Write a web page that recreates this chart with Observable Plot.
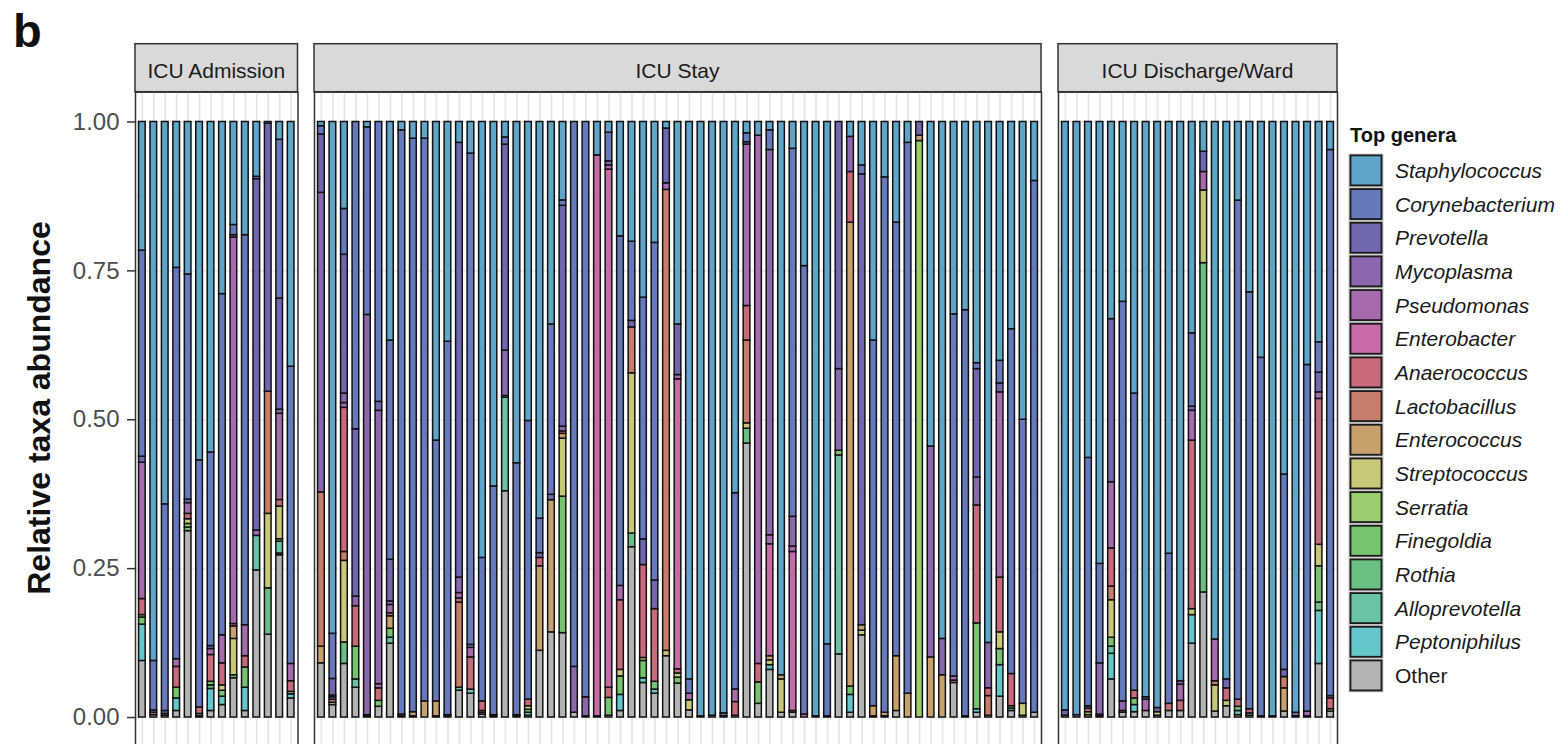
<!DOCTYPE html>
<html><head><meta charset="utf-8">
<script src="https://cdn.jsdelivr.net/npm/d3@7"></script>
<script src="https://cdn.jsdelivr.net/npm/@observablehq/plot@0.6"></script>
<style>
html,body{margin:0;padding:0;background:#fff;overflow:hidden;}
#root{position:relative;width:1561px;height:744px;overflow:hidden;font-family:"Liberation Sans",Arial,Helvetica,sans-serif;}
#root > svg{position:absolute;top:0;}
</style></head><body><div id="root"></div>
<script>
// ---- categories ----
const genera = ["Staphylococcus","Corynebacterium","Prevotella","Mycoplasma","Pseudomonas","Enterobacter","Anaerococcus","Lactobacillus","Enterococcus","Streptococcus","Serratia","Finegoldia","Rothia","Alloprevotella","Peptoniphilus","Other"];
const codes  = ["Sta","Co","Pr","My","Ps","Eb","An","La","Ec","Stp","Ser","Fi","Ro","Al","Pe","O"];
const colors = ["#5fa5c8","#6679bd","#6f68b0","#8b68ae","#a86aae","#c86aa6","#c96a7a","#c87d6a","#c8a06c","#c8c878","#9acd6e","#77c46f","#6abf82","#68c4a4","#65c6cb","#b3b3b3"];
const facetLabels = ["ICU Admission","ICU Stay","ICU Discharge/Ward"];
const yTicks = [0, 0.25, 0.5, 0.75, 1];
const yMinor = [0.125, 0.375, 0.625, 0.875];

// ---- series values (relative abundance per sample) ----
const admission = [
 {O:.095,Pe:.061,Fi:.012,Ser:.004,An:.027,Ps:.229,Pr:.01,Co:.346,Sta:.216},
 {O:.004,An:.004,Pr:.004,Co:.083,Sta:.905},
 {O:.003,Pe:.003,Pr:.005,Co:.347,Sta:.642},
 {O:.011,Pe:.021,Fi:.018,An:.035,Ps:.013,Co:.657,Sta:.245},
 {O:.313,Fi:.006,Stp:.008,Ser:.006,An:.009,Ps:.018,Pr:.006,Co:.378,Sta:.256},
 {O:.002,Fi:.004,An:.011,Co:.415,Sta:.568},
 {O:.011,Pe:.037,Ro:.006,Fi:.006,An:.045,Ps:.01,Pr:.005,Co:.325,Sta:.555},
 {O:.021,Pe:.014,Fi:.010,Stp:.009,An:.037,Ps:.047,Co:.573,Sta:.289},
 {O:.066,Fi:.005,Stp:.061,Ec:.021,An:.004,Ps:.649,Pr:.004,Co:.017,Sta:.173},
 {O:.011,Pe:.039,Fi:.034,An:.019,Ps:.052,Co:.655,Sta:.19},
 {O:.247,Al:.058,Ps:.009,Pr:.59,Co:.004,Sta:.092},
 {O:.139,Ro:.078,Stp:.125,La:.205,Pr:.45,Sta:.003},
 {O:.273,Pe:.003,Al:.02,Ser:.004,Stp:.055,An:.011,Ps:.145,My:.007,Pr:.187,Co:.267,Sta:.03},
 {O:.032,Pe:.007,Stp:.004,An:.018,Ps:.029,Co:.499,Sta:.411}
];
const stay = [
 {O:.091,Ec:.028,La:.259,My:.503,Pr:.098,Co:.014,Sta:.007},
 {O:.021,An:.005,Ps:.004,Stp:.004,My:.003,Pr:.028,Co:.076,Sta:.862},
 {O:.09,Ro:.036,Stp:.137,La:.015,An:.242,Ps:.008,My:.016,Pr:.233,Co:.077,Sta:.146},
 {O:.05,Al:.014,Fi:.055,An:.068,My:.016,Pr:.281,Co:.516},
 {O:.002,Ps:.002,My:.672,Co:.315,Sta:.009},
 {O:.018,Fi:.01,An:.021,Ps:.007,My:.459,Pr:.015,Co:.47},
 {O:.124,Al:.01,Fi:.015,Ec:.021,An:.005,Ps:.014,My:.006,Pr:.07,Co:.368,Sta:.367},
 {O:.002,An:.003,Co:.981,Sta:.014},
 {O:.002,Ec:.007,Co:.963,Sta:.028},
 {Ec:.027,Co:.945,Sta:.028},
 {O:.002,Ec:.025,Co:.438,Sta:.535},
 {O:.002,An:.002,Co:.627,Sta:.369},
 {O:.045,Al:.005,La:.143,An:.007,Ps:.009,My:.026,Pr:.73,Sta:.035},
 {O:.04,Pe:.007,An:.054,Ps:.016,My:.005,Co:.825,Sta:.053},
 {O:.005,Fi:.003,Stp:.003,An:.016,Co:.241,Sta:.732},
 {O:.002,An:.002,Co:.384,Sta:.612},
 {O:.38,Ro:.003,Al:.157,My:.076,Pr:.346,Co:.012,Sta:.026},
 {O:.002,An:.002,Co:.423,Sta:.573},
 {O:.003,Pe:.005,Fi:.005,Stp:.006,An:.011,Co:.467,Sta:.501},
 {O:.112,Ec:.142,An:.014,Pr:.008,Co:.058,Sta:.666},
 {O:.143,Ec:.222,Pr:.009,Co:.286,Sta:.34},
 {O:.141,Fi:.228,Stp:.097,Ec:.008,An:.004,My:.008,Pr:.369,Co:.009,Sta:.131},
 {O:.008,My:.077,Co:.915},
 {O:.002,My:.032,Co:.966},
 {O:.002,Eb:.942,Sta:.056},
 {O:.003,Fi:.03,An:.017,Eb:.87,Ps:.007,Pr:.007,Co:.048,Sta:.018},
 {O:.011,Pe:.027,Fi:.031,Stp:.011,An:.117,Ps:.024,Co:.587,Sta:.192},
 {O:.286,Ro:.023,Stp:.269,La:.077,Pr:.011,Co:.133,Sta:.201},
 {O:.058,Pe:.008,Fi:.029,Stp:.005,An:.156,Pr:.043,Co:.406,Sta:.295},
 {O:.04,Pe:.007,Fi:.013,An:.122,Pr:.048,Co:.567,Sta:.203},
 {O:.103,Stp:.009,La:.774,Ps:.011,Pr:.092,Sta:.011},
 {O:.057,Fi:.01,Stp:.007,An:.007,Eb:.487,Ps:.007,Pr:.085,Sta:.34},
 {O:.012,Stp:.017,Ps:.011,Co:.024,Sta:.936},
 {O:.002,Sta:.998},
 {An:.003,Sta:.997},
 {O:.002,Pr:.005,Sta:.993},
 {O:.003,An:.023,Ps:.021,Co:.329,Sta:.622},
 {O:.46,Ro:.025,Stp:.009,La:.139,An:.058,Ps:.271,Pr:.004,Co:.015,Sta:.019},
 {O:.023,Fi:.036,An:.031,Ps:.887,Sta:.023},
 {O:.08,Pe:.008,Stp:.008,Ec:.007,Eb:.188,Ps:.015,My:.647,Co:.033,Sta:.014},
 {O:.008,Stp:.056,Ec:.007,Sta:.929},
 {O:.008,An:.003,Eb:.267,Ps:.009,My:.05,Co:.618,Sta:.045},
 {Eb:.005,Co:.753,Sta:.242},
 {O:.002,Sta:.998},
 {O:.002,Co:.121,Sta:.877},
 {O:.106,Al:.334,Fi:.008,My:.137,Pr:.415},
 {O:.008,Pe:.03,Fi:.014,Ec:.779,An:.085,My:.059,Sta:.025},
 {O:.138,Stp:.008,Ec:.009,Pr:.757,Co:.015,Sta:.073},
 {O:.002,Ec:.017,Co:.614,Sta:.367},
 {O:.002,Ec:.006,Co:.899,Sta:.093},
 {O:.011,Ec:.092,Co:.728,Sta:.169},
 {Ec:.04,Co:.925,Sta:.035},
 {Ser:.968,Ec:.009,Pr:.023},
 {Ec:.101,My:.354,Sta:.545},
 {Ec:.071,My:.061,Sta:.868},
 {O:.058,An:.004,Ps:.007,Co:.608,Sta:.323},
 {O:.002,Co:.682,Sta:.316},
 {O:.008,Pe:.006,Fi:.144,An:.198,My:.047,Pr:.182,Co:.01,Sta:.405},
 {O:.003,La:.033,An:.013,My:.076,Sta:.873},
 {O:.035,Pe:.053,Fi:.027,Stp:.028,An:.092,Ps:.311,Pr:.015,Co:.038,Sta:.401},
 {O:.011,Al:.004,Fi:.004,An:.054,Co:.579,Sta:.348},
 {O:.003,Stp:.02,Co:.476,Sta:.499},
 {O:.008,Co:.893,Sta:.099}
];
const discharge = [
 {O:.003,Pr:.009,Sta:.988},
 {Co:.004,Sta:.996},
 {O:.004,Stp:.005,An:.006,Pr:.004,Co:.417,Sta:.564},
 {O:.002,Ps:.003,My:.086,Co:.167,Sta:.742},
 {O:.064,Pe:.043,Al:.012,Fi:.015,Stp:.063,La:.023,An:.064,Ps:.111,Pr:.274,Sta:.331},
 {O:.008,An:.003,My:.016,Co:.671,Sta:.302},
 {O:.009,Pe:.012,Fi:.011,An:.013,Co:.499,Sta:.456},
 {O:.011,Ps:.019,Co:.004,Sta:.966},
 {O:.003,Stp:.006,Pr:.007,Sta:.984},
 {O:.011,An:.012,Co:.252,Sta:.725},
 {O:.011,An:.017,Ps:.027,Pr:.006,Sta:.939},
 {O:.124,Pe:.048,Stp:.01,An:.283,Ps:.05,Pr:.007,Co:.123,Sta:.355},
 {O:.21,Ro:.553,Stp:.122,Ps:.031,Pr:.034,Sta:.05},
 {O:.01,Stp:.044,La:.007,Ps:.07,Sta:.869},
 {O:.019,Stp:.009,An:.021,Pr:.015,Sta:.936},
 {O:.004,Pe:.007,Fi:.007,An:.012,Co:.838,Sta:.132},
 {O:.003,Pe:.004,An:.007,Co:.7,Sta:.286},
 {O:.002,Co:.602,Sta:.396},
 {O:.002,Sta:.998},
 {O:.01,Ec:.039,La:.019,Pr:.012,Co:.328,Sta:.592},
 {O:.002,Pr:.006,Sta:.992},
 {O:.002,Ps:.008,Co:.582,Sta:.408},
 {O:.09,Pe:.089,Ro:.014,Fi:.061,Stp:.036,An:.245,Ps:.011,Pr:.033,Co:.051,Sta:.37},
 {O:.01,Stp:.004,An:.018,Ps:.004,Co:.917,Sta:.047}
];

// ---- layout ----
const FONT = '"Liberation Sans", Arial, Helvetica, sans-serif';
const panelTop = 91.7, panelBottom = 746.8;
const panels = [
  {label: facetLabels[0], data: admission, prefix: "A", x0: 135, x1: 297.5},
  {label: facetLabels[1], data: stay, prefix: "S", x0: 314, x1: 1041},
  {label: facetLabels[2], data: discharge, prefix: "D", x0: 1058, x1: 1337}
];
const stackOrder = genera.slice().reverse();
const codeOrder = codes.slice().reverse();
const color = {domain: genera, range: colors};
const root = document.getElementById("root");

// overlay for text / strips / legend
const svg = d3.select(root).append("svg").attr("width", 1561).attr("height", 744)
  .style("font-family", FONT);
svg.append("text").attr("x", 13).attr("y", 47).attr("font-size", 47).attr("font-weight", "bold")
  .attr("fill", "#111").text("b");
svg.append("text").attr("transform", "translate(50,408) rotate(-90)").attr("text-anchor", "middle")
  .attr("font-size", 32).attr("font-weight", "bold").attr("fill", "#111").text("Relative taxa abundance");
for (const p of panels) {
  svg.append("rect").attr("x", p.x0).attr("y", 43.7).attr("width", p.x1 - p.x0).attr("height", panelTop - 43.7)
    .attr("fill", "#d9d9d9").attr("stroke", "#333").attr("stroke-width", 1.5);
  svg.append("text").attr("x", (p.x0 + p.x1) / 2).attr("y", 77.5).attr("text-anchor", "middle")
    .attr("font-size", 21).attr("fill", "#1a1a1a").text(p.label);
}
// legend
svg.append("text").attr("x", 1350).attr("y", 142).attr("font-size", 20).attr("font-weight", "bold")
  .attr("fill", "#111").text("Top genera");
genera.forEach((g, i) => {
  const y = 153.6 + i * 33.67;
  svg.append("rect").attr("x", 1348.5).attr("y", y).attr("width", 35).attr("height", 33.67)
    .attr("fill", "#c4c4c4");
  svg.append("rect").attr("x", 1350.5).attr("y", y + 1.8).attr("width", 31).attr("height", 30)
    .attr("fill", colors[i]).attr("stroke", "#1a1a1a").attr("stroke-width", 1.8);
  svg.append("text").attr("x", 1395).attr("y", y + 16.8 + 7.5).attr("font-size", 21)
    .attr("font-style", g === "Other" ? "normal" : "italic").attr("fill", "#1a1a1a").text(g);
});

// panels
panels.forEach((p, pi) => {
  const ids = p.data.map((_, i) => p.prefix + (i + 1));
  const rows = [];
  p.data.forEach((s, i) => {
    codeOrder.forEach((c, k) => {
      const v = s[c];
      if (v) rows.push({id: ids[i], genus: stackOrder[k], value: v});
    });
  });
  const ml = pi === 0 ? p.x0 : 0;
  const chart = Plot.plot({
    width: ml + (p.x1 - p.x0), height: panelBottom,
    marginTop: panelTop, marginBottom: 0, marginLeft: ml, marginRight: 0,
    style: {background: "transparent", fontFamily: FONT, overflow: "visible"},
    x: {type: "band", domain: ids, axis: null, paddingInner: 0.42, paddingOuter: 0.31, round: false},
    y: {domain: [-0.05, 1.05], axis: null},
    color,
    marks: [
      Plot.ruleY(yMinor, {stroke: "#ededed", strokeWidth: 0.8}),
      Plot.ruleY(yTicks, {stroke: "#ebebeb", strokeWidth: 1.6}),
      Plot.ruleX(ids, {stroke: "#e6e6e6", strokeWidth: 1.8}),
      Plot.barY(rows, Plot.stackY({x: "id", y: "value", z: "genus", fill: "genus", order: stackOrder,
        offset: "normalize", stroke: "#111", strokeWidth: 1.5})),
      Plot.frame({stroke: "#333", strokeWidth: 1.5}),
      pi === 0 ? Plot.axisY(yTicks, {tickFormat: d3.format(".2f"), tickSize: 8, tickPadding: 8, fontSize: 24,
        fill: "#4d4d4d", stroke: "#333", strokeWidth: 1.5, label: null}) : null
    ]
  });
  chart.style.position = "absolute";
  chart.style.left = (pi === 0 ? 0 : p.x0) + "px";
  chart.style.top = "0px";
  root.appendChild(chart);
});
</script></body></html>
